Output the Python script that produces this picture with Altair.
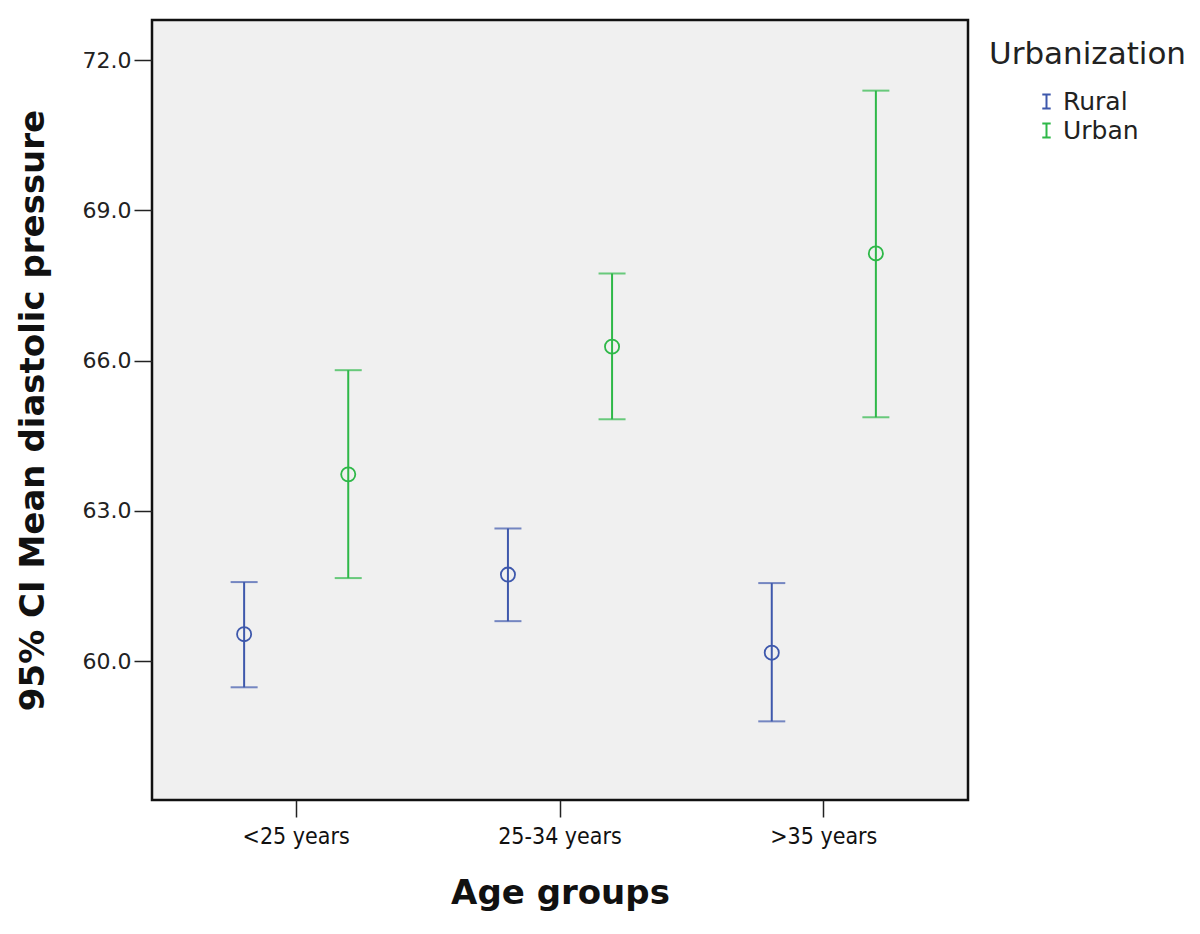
import altair as alt
import pandas as pd

age_groups = ["<25 years", "25-34 years", ">35 years"]
groups = ["Rural", "Urban"]

rural_mean = [60.54, 61.73, 60.17]
rural_low = [59.48, 60.80, 58.80]
rural_high = [61.58, 62.65, 61.56]

urban_mean = [63.73, 66.28, 68.14]
urban_low = [61.66, 64.83, 64.87]
urban_high = [65.81, 67.74, 71.39]

y_ticks = [60.0, 63.0, 66.0, 69.0, 72.0]
colors = ["#3E58AC", "#2EB848"]

rows = []
for i, a in enumerate(age_groups):
    rows.append({"age": a, "urb": "Rural", "mean": rural_mean[i], "low": rural_low[i], "high": rural_high[i]})
    rows.append({"age": a, "urb": "Urban", "mean": urban_mean[i], "low": urban_low[i], "high": urban_high[i]})
df = pd.DataFrame(rows)

x_enc = alt.X("age:N", sort=age_groups, title="Age groups",
              scale=alt.Scale(paddingInner=0, paddingOuter=0.0465),
              axis=alt.Axis(labelAngle=0, labelFont="DejaVu Sans Condensed", labelFontSize=23,
                            labelColor="#111", tickColor="#222", tickSize=17, tickWidth=1.5,
                            domain=False, labelPadding=8,
                            titleFont="DejaVu Sans", titleFontWeight="bold", titleFontSize=34,
                            titleColor="#111", titlePadding=28))
xo_enc = alt.XOffset("urb:N", sort=groups,
                     scale=alt.Scale(paddingInner=0, paddingOuter=0.267))
y_scale = alt.Scale(domain=[57.23, 72.8], nice=False, zero=False)
y_axis = alt.Axis(values=y_ticks, format=".1f", grid=False, domain=False,
                  labelFont="DejaVu Sans", labelFontSize=22, labelColor="#222",
                  tickColor="#222", tickSize=18, tickWidth=1.5, labelPadding=3,
                  titleFont="DejaVu Sans", titleFontWeight="bold", titleFontSize=34,
                  titleColor="#111", titlePadding=32)
color_enc = alt.Color("urb:N", sort=groups, scale=alt.Scale(domain=groups, range=colors),
                      legend=alt.Legend(title="Urbanization", orient="none", legendX=837, legendY=20,
                                        titleFont="DejaVu Sans", titleFontSize=31, titleFontWeight="normal",
                                        titleColor="#222", titlePadding=18, titleLimit=400,
                                        labelFont="DejaVu Sans", labelFontSize=25, labelColor="#222",
                                        symbolType="M-0.6,-1H0.6M0,-1V1M-0.6,1H0.6",
                                        symbolSize=196, symbolStrokeWidth=2,
                                        symbolFillColor="transparent",
                                        symbolOffset=45, labelOffset=4, rowPadding=3))

base = alt.Chart(df)

rule = base.mark_rule(strokeWidth=2).encode(
    x=x_enc, xOffset=xo_enc,
    y=alt.Y("low:Q", scale=y_scale, axis=y_axis, title="95% CI Mean diastolic pressure"),
    y2="high:Q",
    color=color_enc,
)
cap_low = base.mark_tick(size=27, thickness=2).encode(
    x=x_enc, xOffset=xo_enc, y=alt.Y("low:Q", scale=y_scale),
    color=alt.Color("urb:N", sort=groups, scale=alt.Scale(domain=groups, range=colors), legend=None),
)
cap_high = base.mark_tick(size=27, thickness=2).encode(
    x=x_enc, xOffset=xo_enc, y=alt.Y("high:Q", scale=y_scale),
    color=alt.Color("urb:N", sort=groups, scale=alt.Scale(domain=groups, range=colors), legend=None),
)
pts = base.mark_point(shape="circle", size=200, strokeWidth=1.8, filled=False, opacity=1).encode(
    x=x_enc, xOffset=xo_enc, y=alt.Y("mean:Q", scale=y_scale),
    color=alt.Color("urb:N", sort=groups, scale=alt.Scale(domain=groups, range=colors), legend=None),
)

chart = alt.layer(rule, cap_low, cap_high, pts).properties(
    width=816, height=780,
    background="white",
    padding={"left": 8, "top": 12, "right": 5, "bottom": 5},
).configure_view(
    fill="#F0F0F0", stroke="#111", strokeWidth=2.5
)

chart.save("out.html", embed_options={"renderer": "svg", "actions": False})
